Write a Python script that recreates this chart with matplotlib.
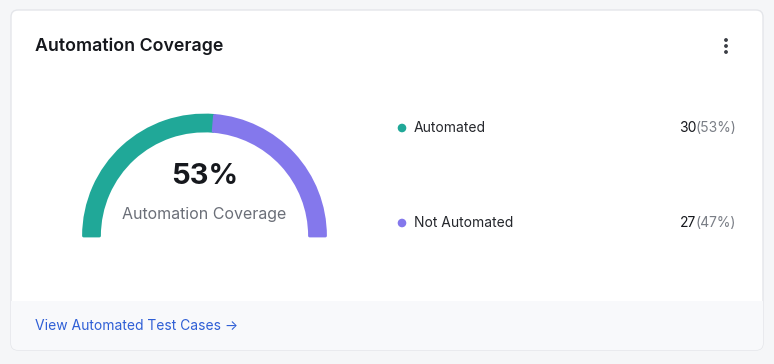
import matplotlib.pyplot as plt
from matplotlib.patches import Wedge, FancyBboxPatch, Rectangle, Circle

plt.rcParams['font.family'] = ['Inter', 'DejaVu Sans']

# data
labels = ['Automated', 'Not Automated']
counts = [30, 27]
colors = ['#20a898', '#8478ec']
title = 'Automation Coverage'
link_text = 'View Automated Test Cases \u2192'

total = sum(counts)
pcts = [round(100 * c / total) for c in counts]

fig = plt.figure(figsize=(7.74, 3.64), dpi=100)
fig.patch.set_facecolor('#f5f6f8')
ax = fig.add_axes([0, 0, 1, 1])
ax.set_xlim(0, 774)
ax.set_ylim(364, 0)
ax.axis('off')

# card
card = FancyBboxPatch((11, 10), 752, 340, boxstyle='round,pad=0,rounding_size=7',
                      facecolor='white', edgecolor='#e4e6ea', linewidth=1, zorder=1)
ax.add_patch(card)
footer = Rectangle((11, 301), 752, 49, facecolor='#f8f9fb', edgecolor='none', zorder=1.5)
ax.add_patch(footer)
footer.set_clip_path(card)

ax.text(35, 46, title, fontsize=12.8, fontweight='semibold', color='#16181d',
        va='center', ha='left', zorder=3)
for dy in (-6, 0, 6):
    ax.add_patch(Circle((726, 46 + dy), 1.2, color='#3a3d44', zorder=3))

# gauge
cx, cy = 204.5, 236
r_out, width = 121, 16
start = 180
for c, col in zip(counts, colors):
    span = 180 * c / total
    ax.add_patch(Wedge((cx, cy), r_out, start, start + span, width=width,
                       facecolor=col, edgecolor=col, linewidth=2,
                       joinstyle='round', zorder=2))
    start += span

ax.text(cx, 177, f'{pcts[0]}%', fontsize=21, fontweight='bold', color='#16181d',
        ha='center', va='center', zorder=3)
ax.text(cx, 214, title, fontsize=11.5, color='#6b6f78', ha='center', va='center', zorder=3)

# legend
fig.canvas.draw()
rend = fig.canvas.get_renderer()
for i, (lab, c, p, col) in enumerate(zip(labels, counts, pcts, colors)):
    y = 128 + i * 95
    ax.add_patch(Circle((402, y), 3.6, color=col, zorder=3))
    ax.text(414, y, lab, fontsize=10, color='#25272c', ha='left', va='center', zorder=3)
    t = ax.text(736, y, f'({p}%)', fontsize=10, color='#7a7e86', ha='right', va='center', zorder=3)
    bb = t.get_window_extent(rend)
    x0 = ax.transData.inverted().transform((bb.x0, bb.y0))[0]
    ax.text(x0 + 1, y, str(c), fontsize=10, color='#16181d', ha='right', va='center', zorder=3)

ax.text(35, 326, link_text, fontsize=10, color='#2f5fd6', ha='left', va='center', zorder=3)

fig.savefig('out.png', dpi=100, facecolor=fig.get_facecolor())
